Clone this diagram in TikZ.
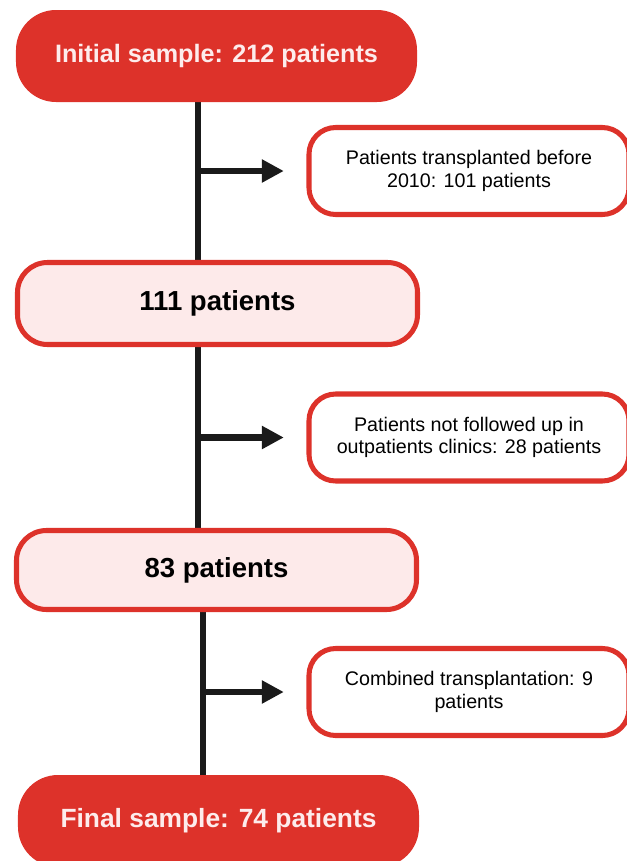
\documentclass[tikz,border=0pt]{standalone}
\usepackage{fontspec}
\setmainfont{Liberation Sans}
\usetikzlibrary{arrows.meta,backgrounds}
\definecolor{boxred}{RGB}{221,50,42}
\definecolor{boxpink}{RGB}{253,234,234}
\definecolor{headtext}{RGB}{253,236,236}
\definecolor{linegray}{RGB}{26,26,26}
\tikzset{
	samplebox/.style={fill=boxred, text=headtext, rounded corners=1.2cm,
		minimum width=12.03cm, minimum height=2.76cm,
		font=\fontsize{21.5}{26}\selectfont\bfseries},
	countbox/.style={draw=boxred, fill=boxpink, line width=4.3pt, rounded corners=0.9cm,
		minimum width=12cm, minimum height=2.46cm,
		font=\fontsize{23.5}{28}\selectfont\bfseries},
	exclbox/.style={draw=boxred, fill=white, line width=4.3pt, rounded corners=0.8cm,
		minimum width=9.6cm, minimum height=2.61cm, align=center,
		font=\fontsize{16.8}{19}\selectfont},
	trunk/.style={draw=linegray, line width=4.3pt},
	branch/.style={draw=linegray, line width=5.2pt, -{Triangle[length=0.66cm,width=0.66cm]}, shorten >=0.68cm}
}
\begin{document}
\begin{tikzpicture}[x=0.03cm,y=-0.03cm]
	\useasboundingbox (0,0) rectangle (627,861);
	\node	(init) at (216.5,56) [samplebox] {Initial sample: 212 patients};
	\node	(s1) at (469,171) [exclbox] {Patients transplanted before\\2010: 101 patients};
	\node	(n111) at (217.5,303.5) [countbox] {111 patients};
	\node	(s2) at (469,437.5) [exclbox] {Patients not followed up in\\outpatients clinics: 28 patients};
	\node	(n83) at (216.5,570) [countbox, minimum height=2.37cm] {83 patients};
	\node	(s3) at (469,692) [exclbox] {Combined transplantation: 9\\patients};
	\node	(final) at (218.5,821) [samplebox, font=\fontsize{22.5}{27}\selectfont\bfseries] {Final sample: 74 patients};
	\coordinate (j1) at (198,171);
	\coordinate (j2) at (198,437.5);
	\coordinate (j3) at (203,692);
	
	\begin{scope}[on background layer]
		\draw[trunk] (init.south -| j1) -- (n111.north -| j1);
		\draw[trunk] (n111.south -| j2) -- (n83.north -| j2);
		\draw[trunk] (n83.south -| j3) -- (final.north -| j3);
	\end{scope}
	
	\draw 
	(j1) edge[branch] (s1.west)
	(j2) edge[branch] (s2.west)
	(j3) edge[branch] (s3.west)
	;
\end{tikzpicture}
\end{document}
